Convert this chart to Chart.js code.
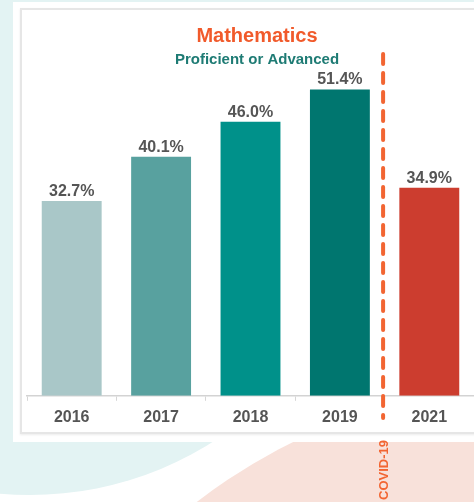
<!DOCTYPE html>
<html>
<head>
<meta charset="utf-8">
<script src="https://cdn.jsdelivr.net/npm/chart.js@4/dist/chart.umd.min.js"></script>
<style>
  html, body { margin:0; padding:0; width:474px; height:502px; overflow:hidden; background:#ffffff; }
  #wrap { position:relative; width:474px; height:502px; overflow:hidden; }
  .bg { position:absolute; }
  #tealCircle { left:-312px; top:-189px; width:684px; height:684px; border-radius:50%; background:#e3f3f3; }
  #tealTop { left:0; top:0; width:474px; height:3px; background:#e3f3f3; }
  #pink { left:-40px; top:378px; width:1206px; height:1206px; border-radius:50%; background:#f8e1da; }
  #card { left:13px; top:2px; width:470px; height:440px; background:#ffffff; }
  #frame { left:20px; top:8px; width:470px; height:422px; border:2px solid #e6e6e6; box-shadow:0 1px 2px rgba(0,0,0,0.08); }
  canvas { position:absolute; left:0; top:0; }
</style>
</head>
<body>
<div id="wrap">
  <div class="bg" id="tealCircle"></div>
  <div class="bg" id="tealTop"></div>
  <div class="bg" id="pink"></div>
  <div class="bg" id="card"></div>
  <div class="bg" id="frame"></div>
  <canvas id="c" width="474" height="502"></canvas>
</div>
<script>
const categories = ['2016', '2017', '2018', '2019', '2021'];
const values = [32.7, 40.1, 46.0, 51.4, 34.9];
const valueLabels = ['32.7%', '40.1%', '46.0%', '51.4%', '34.9%'];
const barColors = ['#a9c7c8', '#58a19f', '#00918a', '#00766f', '#cc3d2f'];
const titleText = 'Mathematics';
const subtitleText = 'Proficient or Advanced';
const markerText = 'COVID-19';

const FONT = '"Liberation Sans", Arial, sans-serif';

const overlay = {
  id: 'overlay',
  afterDraw(chart) {
    const ctx = chart.ctx;
    const x = chart.scales.x;
    const meta = chart.getDatasetMeta(0);
    ctx.save();
    // title
    ctx.textAlign = 'center';
    ctx.textBaseline = 'alphabetic';
    ctx.fillStyle = '#f15a2b';
    ctx.font = 'bold 20px ' + FONT;
    ctx.fillText(titleText, 257, 42);
    ctx.fillStyle = '#1e7b74';
    ctx.font = 'bold 15px ' + FONT;
    ctx.fillText(subtitleText, 257, 64);
    // value labels
    ctx.fillStyle = '#555555';
    ctx.font = 'bold 16px ' + FONT;
    meta.data.forEach((bar, i) => {
      ctx.fillText(valueLabels[i], bar.x, bar.y - 5);
    });
    // dashed divider between 2019 and 2021
    const xd = (x.getPixelForValue(3) + x.getPixelForValue(4)) / 2 - 1.5;
    ctx.strokeStyle = '#f26532';
    ctx.lineWidth = 4;
    ctx.lineCap = 'round';
    ctx.setLineDash([10, 9]);
    ctx.beginPath();
    ctx.moveTo(xd, 54);
    ctx.lineTo(xd, 418);
    ctx.stroke();
    ctx.setLineDash([]);
    // COVID-19 text
    ctx.translate(xd, 470);
    ctx.rotate(-Math.PI / 2);
    ctx.fillStyle = '#f26532';
    ctx.font = 'bold 13px ' + FONT;
    ctx.textAlign = 'center';
    ctx.textBaseline = 'middle';
    ctx.fillText(markerText, 0, 1);
    ctx.restore();
  }
};

new Chart(document.getElementById('c'), {
  type: 'bar',
  data: {
    labels: categories,
    datasets: [{
      data: values,
      backgroundColor: barColors,
      borderWidth: 0,
      barPercentage: 0.67,
      categoryPercentage: 1.0
    }]
  },
  options: {
    responsive: false,
    animation: false,
    devicePixelRatio: 1,
    layout: { padding: { top: 74, left: 27, right: 0, bottom: 68 } },
    plugins: { legend: { display: false }, tooltip: { enabled: false }, title: { display: false } },
    scales: {
      y: { display: false, min: 0, max: 54 },
      x: {
        grid: { display: true, drawOnChartArea: false, drawTicks: true, tickLength: 5, color: '#d6d6d6', lineWidth: 1 },
        border: { display: true, color: '#d3d3d3', width: 1.5 },
        ticks: { color: '#555555', padding: 7, font: { family: FONT, size: 16, weight: 'bold' } }
      }
    }
  },
  plugins: [overlay]
});
</script>
</body>
</html>
